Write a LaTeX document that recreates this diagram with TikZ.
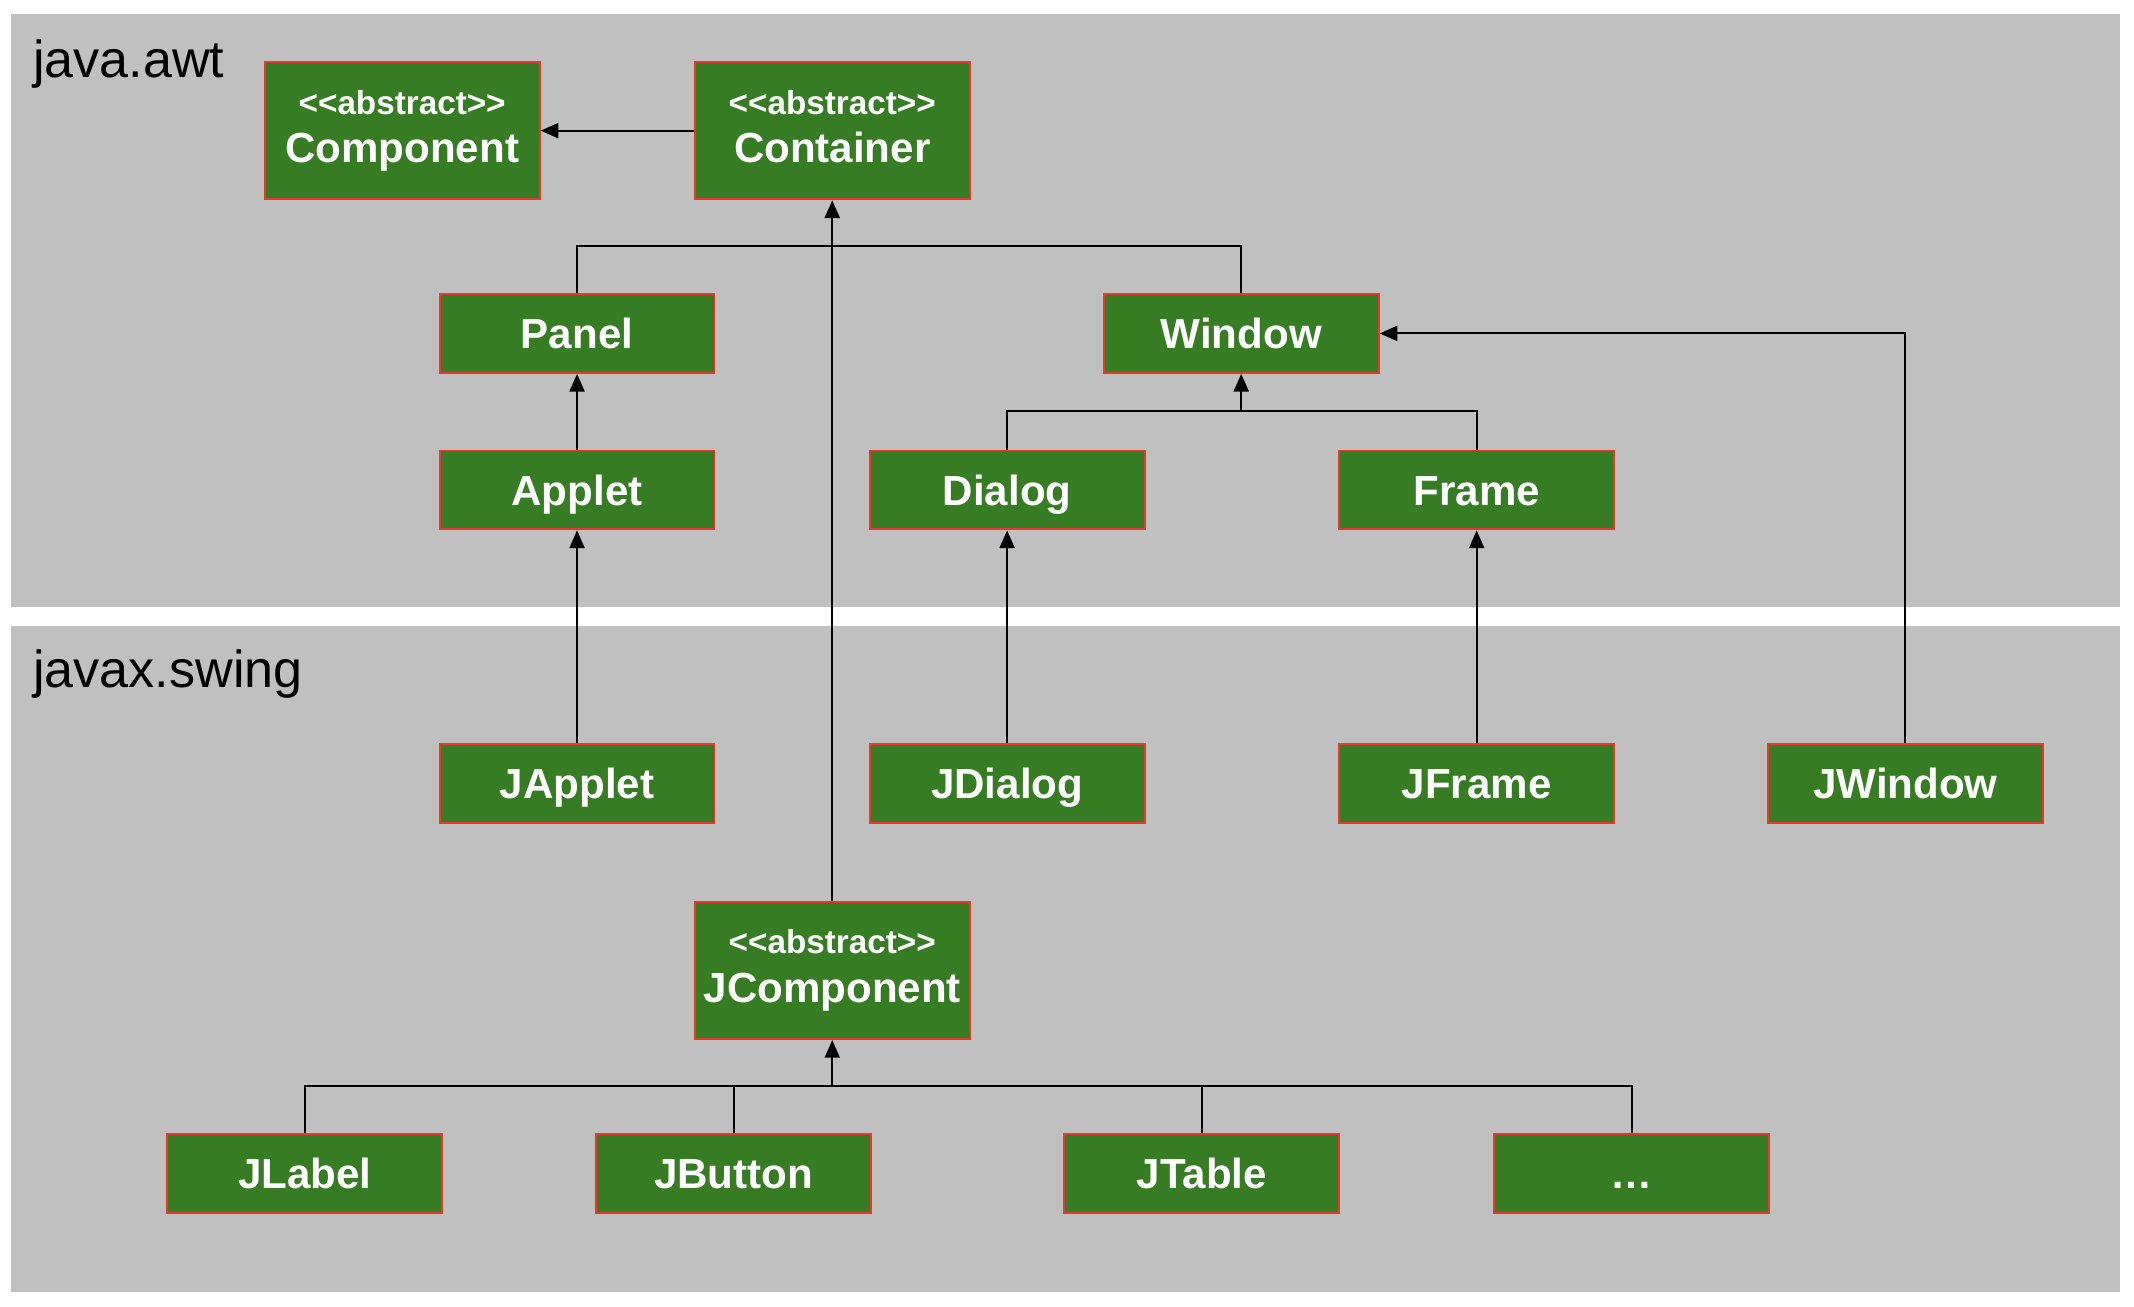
\documentclass[tikz,border=0pt]{standalone}
\usepackage{fontspec}
\setmainfont{Liberation Sans}
\usetikzlibrary{arrows.meta}
\definecolor{boxgreen}{RGB}{54,124,34}
\definecolor{boxred}{RGB}{230,57,43}
\definecolor{pkggray}{RGB}{192,192,192}
\newcommand{\stereo}{\fontsize{13.9}{20}\selectfont <{}<abstract>{}>}
\newcommand{\absname}[1]{{\stereo}\\#1\vphantom{p}}

\begin{document}
\begin{tikzpicture}[
    clsbase/.style={draw=boxred, fill=boxgreen, line width=0.8pt, text=white,
        font=\bfseries\fontsize{17.6}{20.2}\selectfont,
        minimum width=4.04cm, minimum height=1.16cm, inner sep=0pt},
    cls/.style={clsbase, text height=12.6pt, text depth=0pt},
    abscls/.style={clsbase, align=center, minimum height=2.02cm},
    inherit/.style={-{Triangle[length=0.26cm,width=0.22cm]}, line width=0.85pt},
    pkg/.style={font=\fontsize{21.8}{24}\selectfont, anchor=base west, inner sep=0pt}
]
    % Package areas
    \fill[white] (0,0) rectangle (31.36,19.2);
    \fill[pkggray] (0.16,10.28) rectangle (31.16,19.0);
    \fill[pkggray] (0.16,0.22) rectangle (31.16,10.0);
    \node[pkg] (awt) at (0.48,18.06) {java.awt};
    \node[pkg] (swing) at (0.48,9.1) {javax.swing};

    % java.awt classes
    \node[abscls] (component) at (5.91,17.28) {\absname{Component}};
    \node[abscls] (container) at (12.23,17.28) {\absname{Container}};
    \node[cls] (panel) at (8.48,14.3) {Panel};
    \node[cls] (window) at (18.24,14.3) {Window};
    \node[cls] (applet) at (8.48,12.0) {Applet};
    \node[cls] (dialog) at (14.8,12.0) {Dialog};
    \node[cls] (frame) at (21.7,12.0) {Frame};

    % javax.swing classes
    \node[cls] (japplet) at (8.48,7.69) {JApplet};
    \node[cls] (jdialog) at (14.8,7.69) {JDialog};
    \node[cls] (jframe) at (21.7,7.69) {JFrame};
    \node[cls] (jwindow) at (28.0,7.69) {JWindow};
    \node[abscls] (jcomponent) at (12.23,4.94) {\absname{JComponent}};
    \node[cls] (jlabel) at (4.48,1.95) {JLabel};
    \node[cls] (jbutton) at (10.78,1.95) {JButton};
    \node[cls] (jtable) at (17.66,1.95) {JTable};
    \node[cls] (jmore) at (23.98,1.95) {…};

    % Junctions of the shared lines
    \coordinate (contjoin) at (container.south |- 0,15.58);
    \coordinate (winjoin) at (window.south |- 0,13.16);
    \coordinate (jcjoin) at (jcomponent.south |- 0,3.24);

    % Inheritance
    \draw[inherit] (container) -- (component);
    \draw[line width=0.85pt] (panel.north) |- (contjoin);
    \draw[line width=0.85pt] (window.north) |- (contjoin);
    \draw[inherit] (jcomponent) -- (container);
    \draw[inherit] (applet) -- (panel);
    \draw[line width=0.85pt] (dialog.north) |- (winjoin);
    \draw[line width=0.85pt] (frame.north) |- (winjoin);
    \draw[inherit] (winjoin) -- (window.south);
    \draw[inherit] (japplet) -- (applet);
    \draw[inherit] (jdialog) -- (dialog);
    \draw[inherit] (jframe) -- (frame);
    \draw[inherit] (jwindow.north) |- (window.east);
    \foreach \c in {jlabel,jbutton,jtable,jmore} {
        \draw[line width=0.85pt] (\c.north) |- (jcjoin);
    }
    \draw[inherit] (jcjoin) -- (jcomponent.south);
\end{tikzpicture}
\end{document}
